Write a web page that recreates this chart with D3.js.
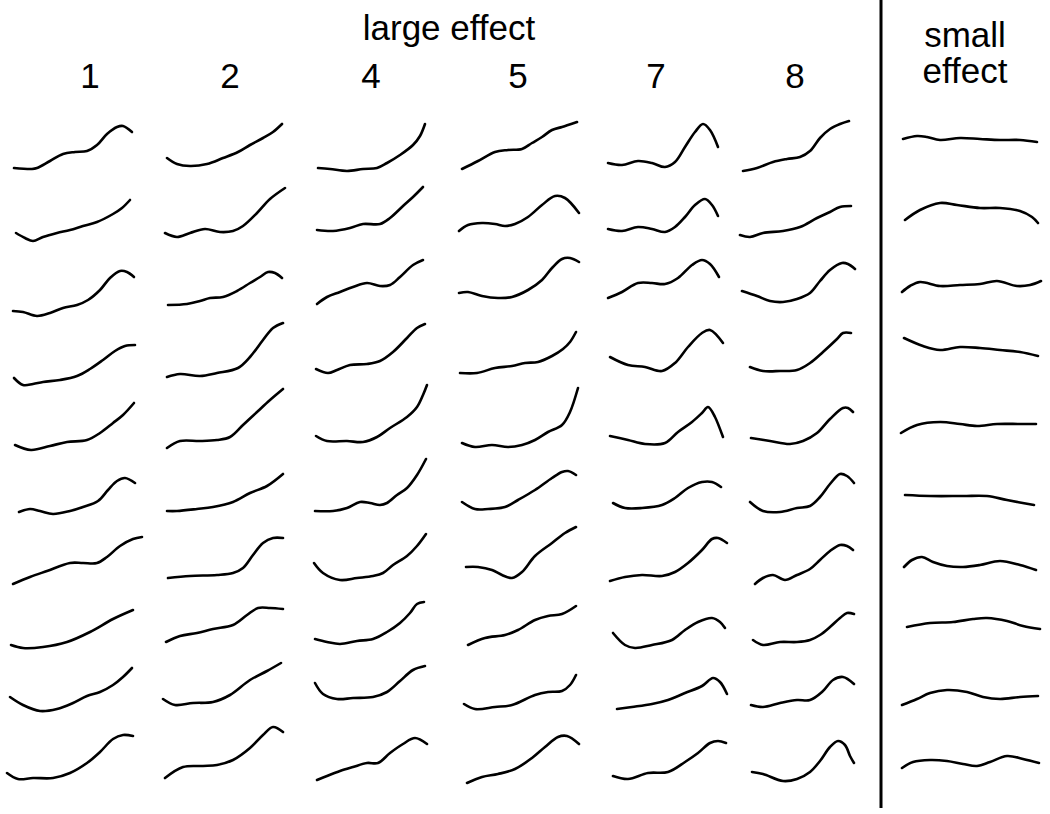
<html>
  <head>
    <title>large effect / small effect</title>
    <meta charset="utf-8">
    <style>
      body { margin: 0; background: #fff; }
      text { font-family: "Liberation Sans", Arial, sans-serif; fill: #000; }
      path.curve { fill: none; stroke: #000; stroke-width: 2.6; stroke-linejoin: round; stroke-linecap: round; }
    </style>
    <script src="https://d3js.org/d3.v7.min.js"></script>
  </head>
  <body>
    <svg id="chart" width="1050" height="814"></svg>
    <script>
      // each curve: [x offset inside its column, height above the row base]
      var col1 = [
        [[14,22],[32,21],[37,22],[50,29],[63,36],[75,38],[87,39],[97,45],[107,56],[117,63],[123,64],[132,58]],
        [[16,25],[25,20],[33,17],[43,21],[57,25],[70,28],[83,32],[97,36],[113,44],[122,50],[130,58]],
        [[13,15],[23,14],[37,10],[50,13],[63,18],[77,21],[88,26],[100,36],[110,48],[120,55],[127,54],[134,49]],
        [[14,16],[23,9],[33,10],[43,12],[60,14],[77,18],[90,25],[103,34],[115,43],[125,48],[135,49]],
        [[15,17],[31,12],[50,16],[67,20],[87,22],[100,29],[113,39],[123,47],[134,59]],
        [[19,18],[30,21],[40,19],[53,16],[70,19],[83,23],[98,29],[108,40],[117,49],[125,52],[135,47]],
        [[13,14],[30,21],[47,27],[70,35],[83,35],[97,35],[107,41],[120,52],[133,59],[142,61]],
        [[11,21],[23,18],[43,19],[67,24],[90,34],[113,47],[133,56]],
        [[10,37],[23,29],[40,23],[57,25],[73,31],[87,38],[100,42],[113,49],[123,57],[132,66]],
        [[7,29],[18,23],[33,24],[53,24],[70,29],[87,39],[100,50],[113,63],[123,67],[133,66]]
      ]
      var col2 = [
        [[17,32],[27,26],[40,24],[57,26],[73,32],[88,38],[100,45],[113,52],[123,58],[132,66]],
        [[15,25],[27,21],[40,25],[55,29],[70,26],[83,27],[93,32],[107,45],[120,59],[135,70]],
        [[18,21],[37,22],[50,25],[60,28],[73,29],[87,35],[100,43],[110,49],[118,54],[125,53],[132,48]],
        [[17,17],[30,20],[50,18],[67,21],[88,26],[100,37],[113,54],[123,66],[133,71]],
        [[17,14],[30,21],[50,21],[67,22],[80,25],[93,37],[107,50],[120,62],[133,73]],
        [[17,19],[27,19],[47,21],[63,23],[83,28],[100,37],[117,44],[133,56]],
        [[18,20],[40,22],[67,23],[83,25],[93,30],[103,43],[113,55],[123,60],[133,60]],
        [[16,24],[30,30],[47,33],[63,37],[83,41],[97,51],[108,58],[120,58],[133,57]],
        [[13,35],[25,29],[43,31],[63,32],[80,39],[100,54],[117,63],[131,71]],
        [[15,24],[33,35],[53,36],[67,37],[83,42],[100,54],[113,67],[123,75],[133,70]]
      ]
      var col4 = [
        [[18,22],[30,21],[47,19],[63,21],[77,22],[87,27],[100,35],[113,45],[120,54],[125,66]],
        [[17,28],[33,27],[50,30],[63,34],[80,34],[90,40],[103,52],[113,61],[123,71]],
        [[17,22],[27,29],[40,34],[53,39],[67,43],[80,40],[90,41],[100,49],[113,61],[123,66]],
        [[16,25],[28,21],[37,24],[50,29],[67,30],[80,33],[93,42],[107,56],[117,66],[125,70]],
        [[16,26],[27,21],[47,21],[63,20],[77,25],[90,34],[107,45],[117,55],[123,67],[127,77]],
        [[15,19],[33,19],[47,22],[60,28],[70,27],[80,25],[87,27],[97,35],[107,42],[117,55],[126,71]],
        [[14,35],[23,25],[40,18],[57,20],[73,22],[83,25],[93,33],[107,42],[117,52],[126,64]],
        [[15,27],[27,24],[40,22],[57,25],[73,27],[87,34],[100,43],[110,53],[117,62],[124,64]],
        [[15,51],[23,40],[37,35],[53,36],[73,37],[87,42],[100,53],[113,64],[125,68]],
        [[17,22],[27,26],[40,31],[53,35],[67,39],[78,39],[90,49],[103,58],[115,64],[127,58]]
      ]
      var col5 = [
        [[17,21],[33,29],[50,38],[63,40],[77,41],[87,47],[97,53],[107,60],[117,63],[123,65],[132,68]],
        [[14,27],[23,33],[37,35],[50,34],[60,32],[70,34],[83,41],[97,53],[110,62],[120,60],[134,45]],
        [[14,33],[23,34],[37,30],[53,28],[67,29],[83,36],[97,46],[107,58],[117,67],[125,68],[134,64]],
        [[15,21],[32,21],[50,26],[67,28],[80,31],[93,32],[107,38],[118,45],[125,52],[131,62]],
        [[17,19],[30,15],[47,17],[63,15],[77,17],[90,22],[103,30],[117,37],[125,50],[133,74]],
        [[17,28],[30,21],[43,21],[60,23],[73,30],[90,40],[107,52],[117,58],[123,59],[131,55]],
        [[21,31],[33,31],[47,28],[57,23],[67,20],[77,26],[90,42],[107,55],[120,65],[131,71]],
        [[23,21],[40,28],[60,31],[73,36],[90,46],[103,50],[117,52],[131,60]],
        [[19,30],[30,25],[50,27],[67,29],[90,39],[103,42],[117,43],[125,49],[131,59]],
        [[22,19],[37,25],[53,28],[70,33],[87,44],[100,55],[113,65],[122,66],[134,58]]
      ]
      var col7 = [
        [[13,27],[27,25],[43,29],[57,27],[70,23],[80,28],[90,43],[100,58],[108,66],[115,60],[123,43]],
        [[13,29],[27,27],[43,31],[57,29],[70,26],[80,31],[90,41],[100,53],[110,59],[117,53],[123,42]],
        [[13,28],[27,34],[43,43],[57,43],[70,42],[83,48],[97,61],[107,66],[115,62],[124,49]],
        [[15,37],[33,29],[50,27],[67,23],[80,31],[93,47],[107,61],[115,64],[128,51]],
        [[15,26],[33,22],[50,18],[70,19],[83,30],[97,40],[107,49],[113,55],[120,45],[128,25]],
        [[18,27],[30,22],[47,22],[67,25],[80,32],[93,42],[107,48],[117,48],[126,43]],
        [[15,17],[30,21],[47,23],[67,22],[80,26],[93,35],[107,48],[117,59],[123,60],[132,55]],
        [[18,33],[30,21],[40,18],[57,21],[77,26],[90,36],[103,44],[117,48],[125,44],[130,38]],
        [[22,25],[37,27],[57,30],[73,34],[90,41],[107,48],[118,56],[125,52],[132,40]],
        [[18,26],[33,23],[53,29],[73,30],[90,40],[103,49],[115,59],[123,61],[131,59]]
      ]
      var col8 = [
        [[13,19],[27,22],[43,28],[57,31],[70,33],[80,39],[90,52],[100,61],[110,66],[119,69]],
        [[10,23],[20,21],[33,25],[53,27],[70,31],[87,40],[100,46],[110,51],[121,52]],
        [[12,35],[27,30],[40,25],[53,24],[67,27],[80,33],[90,45],[100,56],[112,63],[118,62],[125,57]],
        [[20,27],[33,23],[50,23],[67,24],[80,31],[93,42],[107,55],[113,61],[121,61]],
        [[21,24],[40,21],[60,18],[73,21],[87,29],[100,43],[113,54],[118,54],[123,50]],
        [[20,28],[33,19],[50,18],[67,22],[80,24],[90,33],[100,46],[110,56],[117,54],[124,47]],
        [[25,14],[33,20],[43,23],[55,18],[67,23],[80,29],[90,38],[100,47],[110,53],[117,52],[123,48]],
        [[23,26],[33,21],[50,24],[67,24],[80,26],[90,31],[100,39],[110,48],[117,53],[124,52]],
        [[21,29],[33,27],[50,31],[67,34],[80,34],[93,43],[103,54],[113,57],[124,50]],
        [[22,30],[33,28],[53,21],[67,23],[80,30],[90,41],[100,55],[108,61],[115,57],[120,46],[124,39]]
      ]
      var smallEffect = [
        [[23,51],[37,54],[47,53],[60,50],[80,52],[100,51],[120,50],[140,50],[157,48]],
        [[25,38],[40,48],[60,55],[77,53],[100,50],[120,50],[140,47],[152,41],[158,35]],
        [[22,34],[30,40],[40,44],[60,40],[80,41],[100,42],[117,45],[137,40],[150,41],[161,45]],
        [[24,56],[43,48],[60,44],[80,47],[100,46],[120,44],[140,42],[158,38]],
        [[21,29],[37,37],[60,40],[80,38],[97,36],[117,38],[140,38],[156,38]],
        [[25,35],[50,34],[83,34],[107,34],[127,30],[154,25]],
        [[24,31],[32,38],[42,41],[53,36],[67,32],[83,31],[100,33],[120,37],[140,33],[156,28]],
        [[27,39],[50,43],[73,44],[93,47],[107,48],[127,45],[143,40],[160,37]],
        [[22,29],[37,35],[50,41],[67,44],[87,42],[103,37],[120,35],[140,37],[158,38]],
        [[22,34],[33,40],[50,42],[67,41],[83,38],[97,36],[110,40],[127,46],[143,43],[159,39]]
      ]

      var largeLabels = ["1", "2", "4", "5", "7", "8"]
      var largeTitle = "large effect"
      var smallTitle = ["small", "effect"]

      var columns = [col1, col2, col4, col5, col7, col8, smallEffect]
      var columnKeys = largeLabels.concat(["small"])

      var svg = d3.select("#chart")

      // layout
      var colLeft = d3.scaleOrdinal()
                      .domain(columnKeys)
                      .range([0, 150, 300, 445, 595, 730, 880])
      var rowBase = d3.scalePoint()
                      .domain(d3.range(10))
                      .range([190, 802])
      var labelX = d3.scaleOrdinal()
                     .domain(largeLabels)
                     .range([90, 230, 371, 518, 656, 795])

      var line = d3.line().curve(d3.curveCatmullRom.alpha(0.5))

      columns.forEach(function(curves, c){
        var key = columnKeys[c]
        var x = d3.scaleLinear().domain([0, 160]).range([colLeft(key), colLeft(key) + 160])
        curves.forEach(function(pts, r){
          var y = d3.scaleLinear().domain([0, 80]).range([rowBase(r), rowBase(r) - 80])
          line.x(d => x(d[0])).y(d => y(d[1]))
          svg.append("path")
             .attr("class", "curve")
             .attr("d", line(pts))
        })
      })

      // divider between large and small effect
      svg.append("line")
         .attr("x1", 881).attr("x2", 881)
         .attr("y1", 0).attr("y2", 808)
         .attr("stroke", "#000")
         .attr("stroke-width", 3)

      svg.append("text")
         .attr("x", 449).attr("y", 40)
         .attr("text-anchor", "middle")
         .attr("font-size", 35)
         .text(largeTitle)

      svg.selectAll("text.num")
         .data(largeLabels)
         .enter()
         .append("text")
         .attr("class", "num")
         .attr("x", d => labelX(d))
         .attr("y", 88)
         .attr("text-anchor", "middle")
         .attr("font-size", 35)
         .text(d => d)

      svg.selectAll("text.small")
         .data(smallTitle)
         .enter()
         .append("text")
         .attr("class", "small")
         .attr("x", 965)
         .attr("y", (d, i) => 47 + i * 36)
         .attr("text-anchor", "middle")
         .attr("font-size", 35)
         .text(d => d)
    </script>
  </body>
</html>
